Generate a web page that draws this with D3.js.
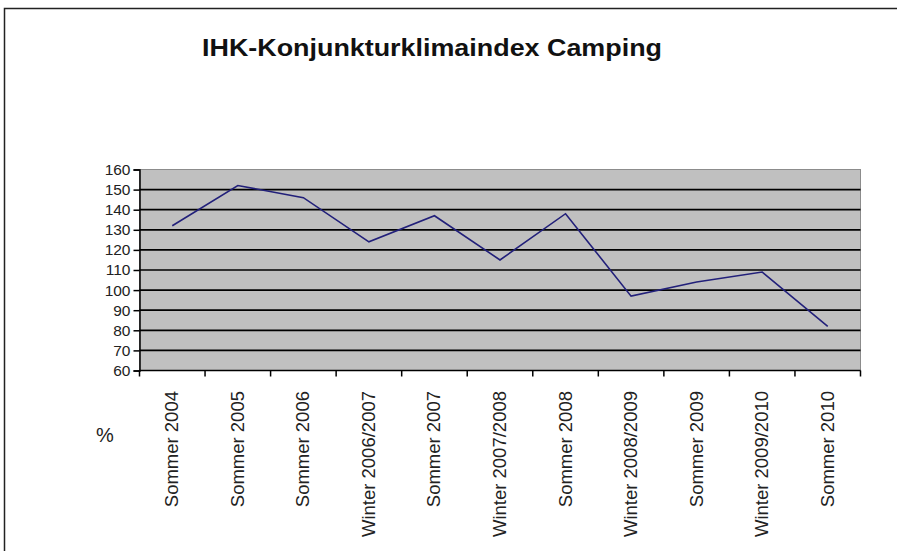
<!DOCTYPE html>
<html>
<head>
<meta charset="utf-8">
<script src="https://cdn.jsdelivr.net/npm/d3@7"></script>
<style>
  body { margin: 0; background: #fff; }
  svg { display: block; font-family: Arial, "Liberation Sans", sans-serif; }
</style>
</head>
<body>
<div id="chart"></div>
<script>
// data
var categories = ["Sommer 2004", "Sommer 2005", "Sommer 2006", "Winter 2006/2007",
  "Sommer 2007", "Winter 2007/2008", "Sommer 2008", "Winter 2008/2009",
  "Sommer 2009", "Winter 2009/2010", "Sommer 2010"];
var indexValues = [132, 152, 146, 124, 137, 115, 138, 97, 104, 109, 82];
var yTicks = [60, 70, 80, 90, 100, 110, 120, 130, 140, 150, 160];
var titleText = "IHK-Konjunkturklimaindex Camping";
var unitLabel = "%";

var width = 897, height = 551;
var plot = { left: 139.5, right: 860.5, top: 169.5, bottom: 370.5 };

var svg = d3.select("#chart").append("svg")
  .attr("width", width)
  .attr("height", height);

// outer chart border (right and bottom run off the picture)
svg.append("rect")
  .attr("x", 4.5).attr("y", 8.5)
  .attr("width", 920).attr("height", 600)
  .attr("fill", "#fff")
  .attr("stroke", "#222")
  .attr("stroke-width", 1.5);

svg.append("text")
  .attr("x", 202).attr("y", 56)
  .attr("font-size", 23).attr("font-weight", "bold")
  .attr("textLength", 460).attr("lengthAdjust", "spacingAndGlyphs")
  .attr("fill", "#111")
  .text(titleText);

var x = d3.scaleBand()
  .domain(categories)
  .range([plot.left, plot.right]);

var y = d3.scaleLinear()
  .domain([60, 160])
  .range([plot.bottom, plot.top]);

// plot area
svg.append("rect")
  .attr("x", plot.left).attr("y", plot.top)
  .attr("width", plot.right - plot.left)
  .attr("height", plot.bottom - plot.top)
  .attr("fill", "#c0c0c0")
  .attr("stroke", "#8c8c8c")
  .attr("stroke-width", 1);

// gridlines
svg.append("g")
  .selectAll("line")
  .data(yTicks.filter(function(d){ return d > 60 && d < 160; }))
  .join("line")
  .attr("x1", plot.left).attr("x2", plot.right)
  .attr("y1", function(d){ return y(d); })
  .attr("y2", function(d){ return y(d); })
  .attr("stroke", "#000")
  .attr("stroke-width", 1.7);

// y axis
var yAxis = svg.append("g")
  .attr("transform", "translate(" + plot.left + ",0)")
  .call(d3.axisLeft(y).tickValues(yTicks).tickSize(6).tickPadding(3));
yAxis.select(".domain").attr("stroke", "#000").attr("stroke-width", 1.5);
yAxis.selectAll(".tick line").attr("stroke", "#000").attr("stroke-width", 1.5);
yAxis.selectAll(".tick text")
  .attr("font-size", 15.5)
  .attr("font-family", "Arial, 'Liberation Sans', sans-serif")
  .attr("fill", "#222");

// x axis: ticks at category boundaries
var boundaries = categories.map(function(c){ return x(c); }).concat([plot.right]);
var xg = svg.append("g");
xg.append("line")
  .attr("x1", plot.left).attr("x2", plot.right)
  .attr("y1", plot.bottom).attr("y2", plot.bottom)
  .attr("stroke", "#000").attr("stroke-width", 1.5);
xg.selectAll("line.tick")
  .data(boundaries)
  .join("line")
  .attr("class", "tick")
  .attr("x1", function(d){ return d; }).attr("x2", function(d){ return d; })
  .attr("y1", plot.bottom).attr("y2", plot.bottom + 6)
  .attr("stroke", "#000").attr("stroke-width", 1.5);

xg.selectAll("text")
  .data(categories)
  .join("text")
  .attr("transform", function(d){
    return "translate(" + (x(d) + x.bandwidth() / 2 + 6) + "," + 391 + ") rotate(-90)";
  })
  .attr("text-anchor", "end")
  .attr("font-size", 18.5)
  .attr("fill", "#222")
  .text(function(d){ return d; });

svg.append("text")
  .attr("x", 96).attr("y", 442)
  .attr("font-size", 20)
  .attr("fill", "#222")
  .text(unitLabel);

// series line
var line = d3.line()
  .x(function(d, i){ return x(categories[i]) + x.bandwidth() / 2; })
  .y(function(d){ return y(d); });

svg.append("path")
  .datum(indexValues)
  .attr("d", line)
  .attr("fill", "none")
  .attr("stroke", "#22207a")
  .attr("stroke-width", 1.6);
</script>
</body>
</html>
